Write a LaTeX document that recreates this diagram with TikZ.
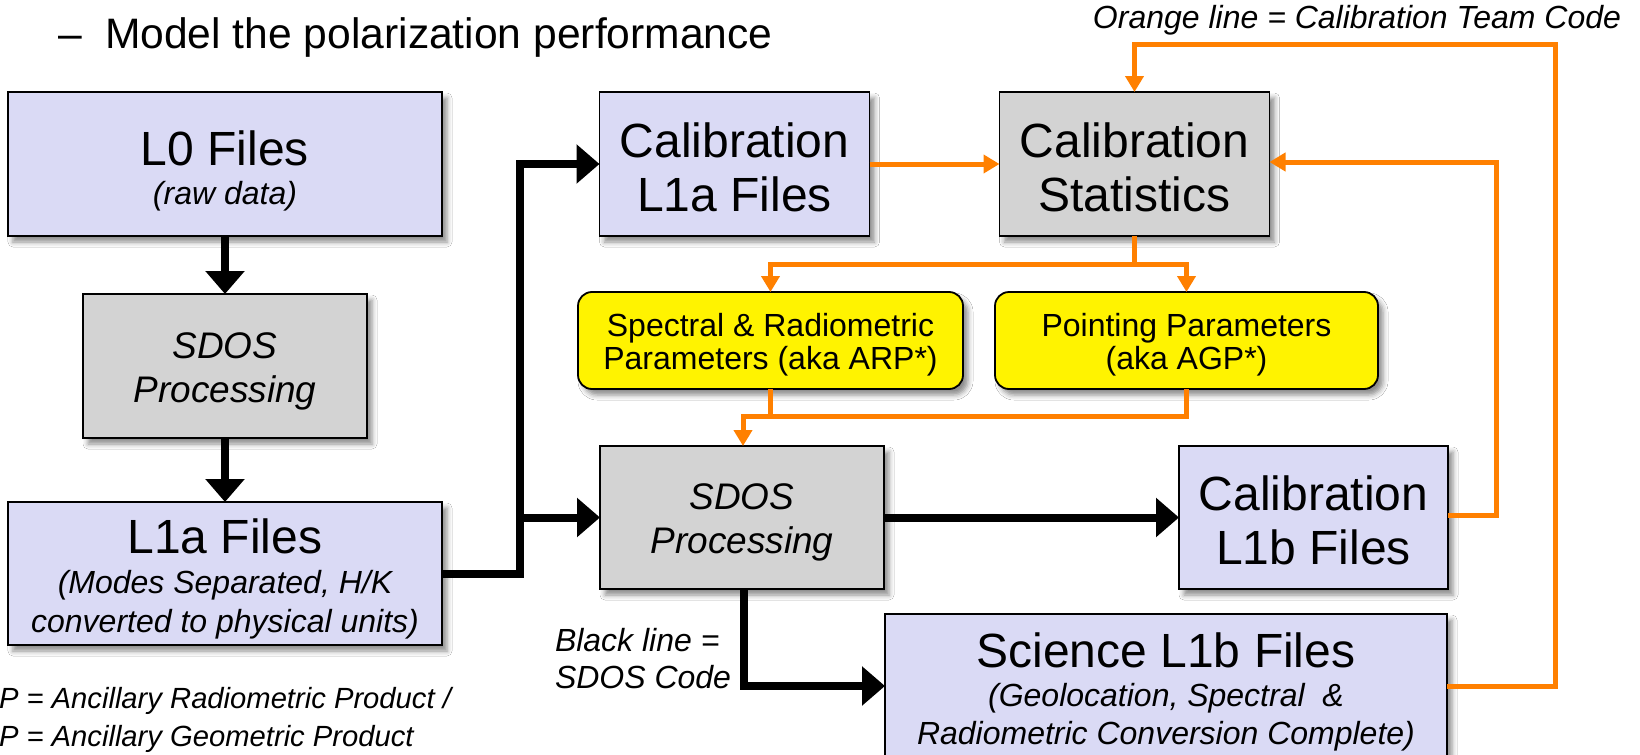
\documentclass[tikz,border=0pt]{standalone}
\usepackage{fontspec}
\setmainfont{Liberation Sans}
\usetikzlibrary{arrows.meta,shadows.blur}

\definecolor{lavfill}{RGB}{218,218,245}
\definecolor{grayfill}{RGB}{211,211,211}
\definecolor{yelfill}{RGB}{255,243,0}
\definecolor{calorange}{RGB}{255,128,0}

\newcommand\fBig{\fontsize{24}{28}\selectfont}
\newcommand\fSub{\fontsize{16}{19}\selectfont\itshape}
\newcommand\fProc{\fontsize{18.5}{22}\selectfont\itshape}
\newcommand\fPar{\fontsize{16}{19}\selectfont}
\newcommand\fNote{\fontsize{16}{19}\selectfont\itshape}

\tikzset{
  boxbase/.style={draw=black, line width=0.9pt, inner sep=0pt, outer sep=0pt,
    blur shadow={shadow xshift=2.5pt, shadow yshift=-3pt, shadow blur radius=2.5pt, shadow opacity=45}},
  filebox/.style={boxbase, fill=lavfill},
  procbox/.style={boxbase, fill=grayfill},
  parbox/.style={boxbase, fill=yelfill, rounded corners=7pt},
  txt/.style={anchor=base, inner sep=0pt, outer sep=0pt},
  blk/.style={draw=black, line width=4pt, line join=miter},
  blkarrow/.style={blk, -{Triangle[length=11.5pt,width=19pt]}},
  org/.style={draw=calorange, line width=2.5pt, line join=miter},
  orgarrow/.style={org, -{Triangle[length=8pt,width=9pt]}}
}

\begin{document}
\begin{tikzpicture}[x=0.5pt,y=-0.5pt]
\clip (0,0) rectangle (1640,755);
\fill[white] (0,0) rectangle (1640,755);

% heading and notes
\node[txt, font=\fontsize{21.3}{25}\selectfont] (dash) at (70,48) {–};
\node[txt, anchor=base west, font=\fontsize{21.3}{25}\selectfont] (heading) at (105,48) {Model the polarization performance};
\node[txt, anchor=base east, font=\fNote] (orgnote) at (1621,28) {Orange line = Calibration Team Code};
\node[txt, anchor=base west, font=\fNote] (blknote1) at (555,651) {Black line =};
\node[txt, anchor=base west, font=\fNote] (blknote2) at (555,688) {SDOS Code};
\node[txt, anchor=base west, font=\fontsize{14.6}{18}\selectfont\itshape] (foot1) at (-1,708) {P = Ancillary Radiometric Product /};
\node[txt, anchor=base west, font=\fontsize{14.6}{18}\selectfont\itshape] (foot2) at (-1,746) {P = Ancillary Geometric Product};

% boxes
\node[filebox, minimum width=217pt, minimum height=72pt] (L0) at (225,164) {};
\node[procbox, minimum width=142pt, minimum height=72pt] (SDOS1) at (225,366) {};
\node[filebox, minimum width=217pt, minimum height=71.5pt] (L1a) at (225,573.5) {};
\node[filebox, minimum width=135pt, minimum height=72pt] (CalL1a) at (734.5,164) {};
\node[procbox, minimum width=135pt, minimum height=72pt] (CalStat) at (1134.5,164) {};
\node[parbox, minimum width=192.5pt, minimum height=48.5pt] (Y1) at (770.5,340.5) {};
\node[parbox, minimum width=191.5pt, minimum height=48.5pt] (Y2) at (1186.5,340.5) {};
\node[procbox, minimum width=142pt, minimum height=71.5pt] (SDOS2) at (742,517.5) {};
\node[filebox, minimum width=134.5pt, minimum height=71.5pt] (CalL1b) at (1313.5,517.5) {};
\node[filebox, minimum width=281pt, minimum height=80pt] (Sci) at (1166,694) {};

% box texts
\node[txt, font=\fBig] (L0a) at (225,165) {L0 Files};
\node[txt, font=\fSub] (L0b) at (225,204) {(raw data)};
\node[txt, font=\fProc] (S1a) at (225,358) {SDOS};
\node[txt, font=\fProc] (S1b) at (225,402) {Processing};
\node[txt, font=\fBig] (L1aa) at (225,553) {L1a Files};
\node[txt, font=\fSub] (L1ab) at (225,593) {(Modes Separated, H/K};
\node[txt, font=\fSub] (L1ac) at (225,632) {converted to physical units)};
\node[txt, font=\fBig] (C1a) at (734.5,157) {Calibration};
\node[txt, font=\fBig] (C1b) at (734.5,211) {L1a Files};
\node[txt, font=\fBig] (CSa) at (1134.5,157) {Calibration};
\node[txt, font=\fBig] (CSb) at (1134.5,211) {Statistics};
\node[txt, font=\fPar] (Y1a) at (770.5,336) {Spectral \& Radiometric};
\node[txt, font=\fPar] (Y1b) at (770.5,369) {Parameters (aka ARP*)};
\node[txt, font=\fPar] (Y2a) at (1186.5,336) {Pointing Parameters};
\node[txt, font=\fPar] (Y2b) at (1186.5,369) {(aka AGP*)};
\node[txt, font=\fProc] (S2a) at (742,509.5) {SDOS};
\node[txt, font=\fProc] (S2b) at (742,553.5) {Processing};
\node[txt, font=\fBig] (CBa) at (1313.5,510.5) {Calibration};
\node[txt, font=\fBig] (CBb) at (1313.5,564.5) {L1b Files};
\node[txt, font=\fBig] (SCa) at (1166,667) {Science L1b Files};
\node[txt, font=\fSub] (SCb) at (1166,706) {(Geolocation, Spectral\ \ \&};
\node[txt, font=\fSub] (SCc) at (1166,744) {Radiometric Conversion Complete)};

% SDOS code flow (black)
\coordinate (jA) at (520,164);
\coordinate (jB) at (520,517.5);
\coordinate (jC) at (744,686);
\draw[blkarrow] (L0) -- (SDOS1);
\draw[blkarrow] (SDOS1) -- (L1a);
\draw[blkarrow] (L1a.east) -| (jA) -- (CalL1a.west);
\draw[blkarrow] (jB) -- (SDOS2.west);
\draw[blkarrow] (SDOS2.east) -- (CalL1b.west);
\draw[blkarrow] (SDOS2.south -| jC) -- (jC) -- (Sci.west |- jC);

% calibration team code flow (orange)
\coordinate (oA) at (1555,686);
\coordinate (oB) at (1134.5,44);
\coordinate (oC) at (1496,515);
\coordinate (oD) at (1496,162);
\coordinate (oE) at (1134.5,264);
\coordinate (oF) at (743,416);
\draw[orgarrow] (CalL1a.east) -- (CalStat.west);
\draw[orgarrow] (Sci.east |- oA) -- (oA) |- (oB) -- (CalStat.north);
\draw[orgarrow] (CalL1b.east |- oC) -- (oC) -- (oD) -- (CalStat.east |- oD);
\draw[org] (CalStat.south) -- (oE);
\draw[orgarrow] (oE) -| (Y1.north);
\draw[orgarrow] (oE) -| (Y2.north);
\draw[org] (Y2.south) |- (oF);
\draw[orgarrow] (Y1.south) |- (oF) -- (oF |- SDOS2.north);
\end{tikzpicture}
\end{document}
